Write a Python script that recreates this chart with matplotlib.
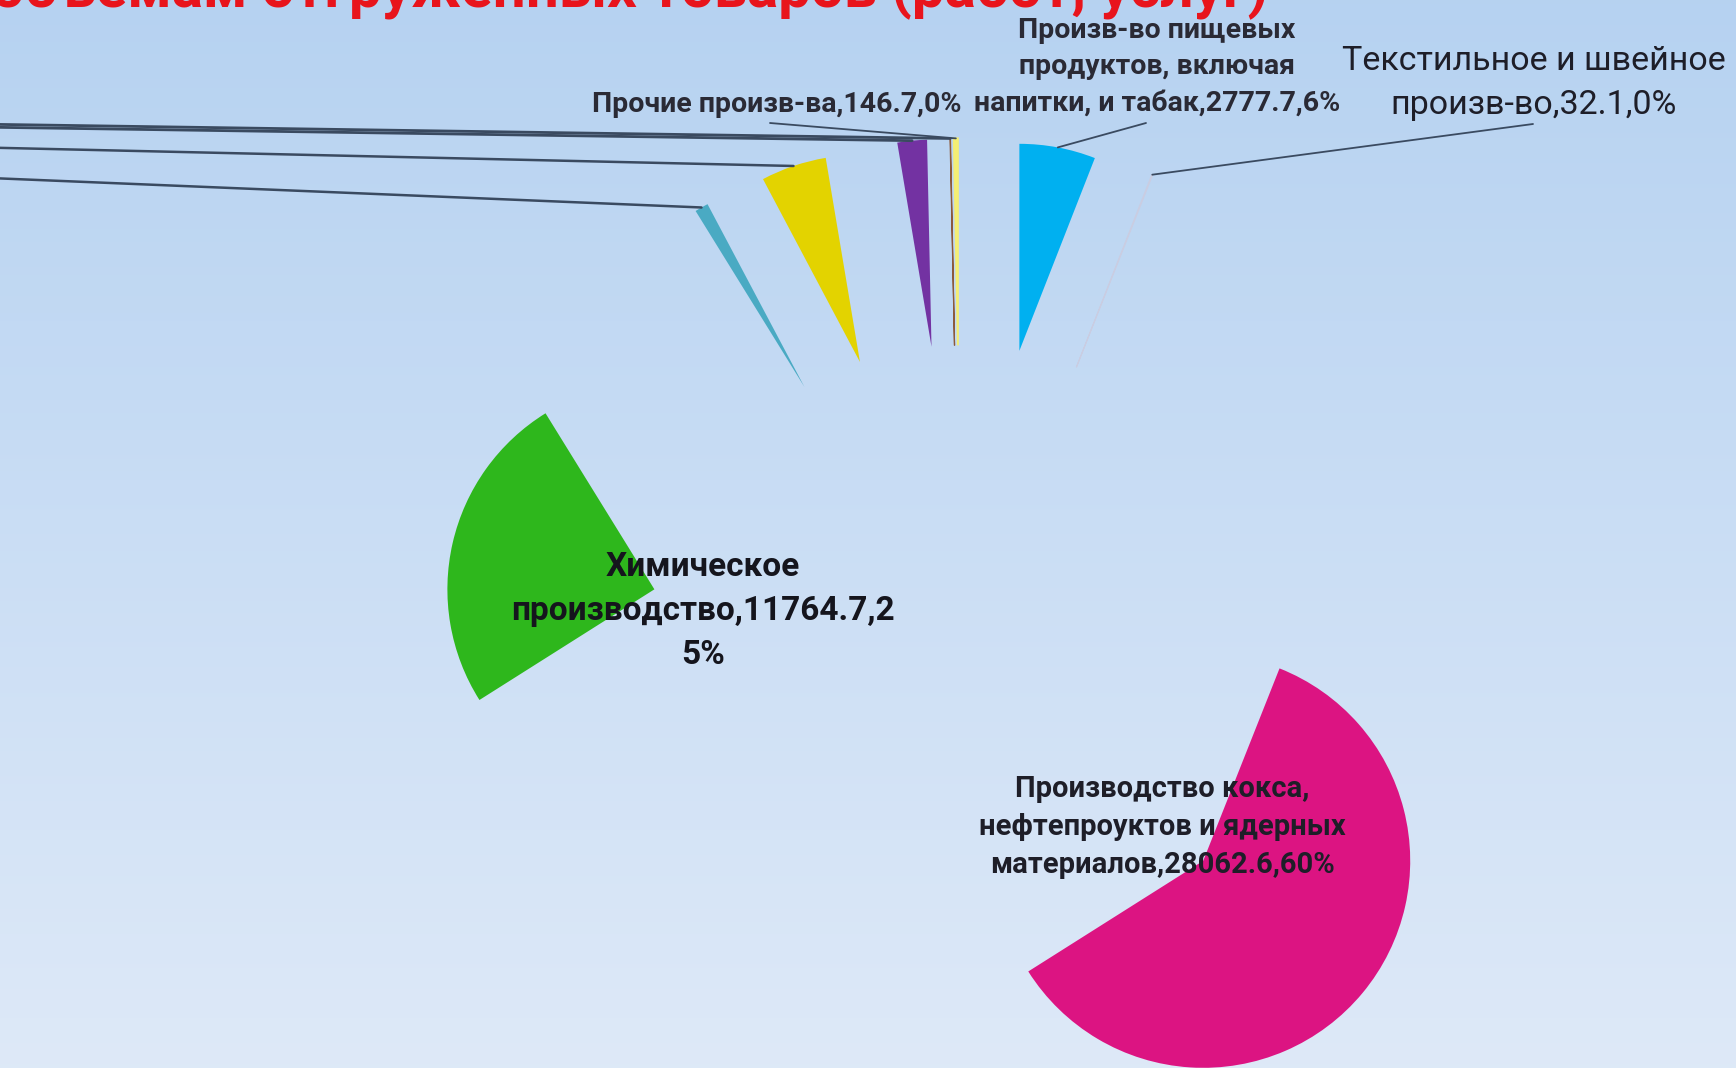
import numpy as np
import matplotlib
matplotlib.use("Agg")
import matplotlib.pyplot as plt

# ---------------- data ----------------
categories = [
    "Произв-во пищевых продуктов, включая напитки, и табак",
    "Текстильное и швейное произв-во",
    "Производство кокса, нефтепроуктов и ядерных материалов",
    "Химическое производство",
    "Металлургическое производство",
    "Производство прочих неметаллических минеральных продуктов",
    "Производство машин и оборудования",
    "Обработка древесины",
    "Прочие произв-ва",
]
values = [2777.7, 32.1, 28062.6, 11764.7, 494.0, 2390.0, 1078.0, 13.0, 146.7]
percent_labels = ["6%", "0%", "60%", "25%", "1%", "5%", "2%", "0%", "0%"]
slice_colors = ["#00b0f0", "#d4d8ea", "#dc1482", "#2eb71c", "#4aaac3",
                "#e3d300", "#7332a2", "#8c5a3c", "#f4ee74"]

title_text = "Структура промышленного производства по объемам отгруженных товаров (работ, услуг)"

FONT = ["Roboto", "DejaVu Sans"]
plt.rcParams["font.family"] = FONT

W, H = 1736, 1068
S = 207.0          # pixels per pie radius
CX, CY = 961.0, 660.0  # pie centre in pixels (from top-left)


def P(px, py):
    """pixel position (top-left origin) -> data coordinates"""
    return ((px - CX) / S, (CY - py) / S)


fig = plt.figure(figsize=(W / 100, H / 100), dpi=100)

# background gradient
bg = fig.add_axes([0, 0, 1, 1])
bg.axis("off")
top = np.array([0.714, 0.824, 0.945])
bot = np.array([0.870, 0.914, 0.972])
g = np.linspace(0, 1, 256)[:, None, None]
img = top + (bot - top) * g
bg.imshow(np.repeat(img, 2, axis=1), aspect="auto", extent=[0, 1, 0, 1], origin="upper")

ax = fig.add_axes([0, 0, 1, 1])
ax.set_facecolor("none")

wedges, _ = ax.pie(values, colors=slice_colors, startangle=90, counterclock=False,
                   explode=[1.52] * len(values), radius=1.0,
                   wedgeprops=dict(linewidth=0))
# hair-thin slices: give them an outline so they stay visible
wedges[1].set_edgecolor("#c9cde2"); wedges[1].set_linewidth(0.8)
wedges[7].set_edgecolor("#8c5a3c"); wedges[7].set_linewidth(0.9)
wedges[8].set_edgecolor("#f4ee74"); wedges[8].set_linewidth(1.4)

ax.set_xlim(-CX / S, (W - CX) / S)
ax.set_ylim(-(H - CY) / S, CY / S)
ax.set_aspect("auto")
ax.axis("off")


def arc_mid(w):
    th = np.deg2rad((w.theta1 + w.theta2) / 2)
    cx, cy = w.center
    return (cx + w.r * np.cos(th), cy + w.r * np.sin(th))


LINE = "#3a4a60"


def leader(i, end, lw=1.6, color=LINE):
    ax.annotate("", xy=arc_mid(wedges[i]), xytext=end,
                arrowprops=dict(arrowstyle="-", color=color, lw=lw,
                                shrinkA=0, shrinkB=0))


def fmt(v):
    return f"{v:g}"


TXT = "#1e1e28"

# food
leader(0, P(1146, 123), lw=1.3)
ax.text(*P(1157, 67), "Произв-во пищевых\nпродуктов, включая\nнапитки, и табак," + fmt(values[0]) + "," + percent_labels[0],
        ha="center", va="center", fontsize=20.5, fontweight="bold", color="#2a2a35", linespacing=1.45)
# textile
leader(1, P(1533, 124), lw=1.3)
ax.text(*P(1534, 83), "Текстильное и швейное\nпроизв-во," + fmt(values[1]) + "," + percent_labels[1],
        ha="center", va="center", fontsize=24.5, color=TXT, linespacing=1.45)
# other
leader(8, P(770, 123), lw=1.3)
ax.text(*P(777, 104), categories[8] + "," + fmt(values[8]) + "," + percent_labels[8],
        ha="center", va="center", fontsize=20.5, fontweight="bold", color="#2a2a35")
# chemistry (inside)
ax.text(*P(703, 611), "Химическое\nпроизводство," + fmt(values[3]) + ",2\n" + percent_labels[3][1:],
        ha="center", va="center", fontsize=24, fontweight="bold", color="#15151d", linespacing=1.5)
# coke (inside)
ax.text(*P(1162, 827), "Производство кокса,\nнефтепроуктов и ядерных\nматериалов," + fmt(values[2]) + "," + percent_labels[2],
        ha="center", va="center", fontsize=21, fontweight="bold", color="#1e1e28", linespacing=1.45)

# leaders of labels that sit beyond the left edge
leader(6, P(-300, 123), lw=2.0)
leader(7, P(-300, 120), lw=2.0)
leader(5, P(-300, 141), lw=1.8)
leader(4, P(-300, 166), lw=1.8)

# title (mostly above the visible area, as in the reference crop)
fig.text(1268 / W, 1 - 7 / H, title_text, ha="right", va="baseline",
         color="#e8141c", fontsize=42, fontweight="bold", family=FONT)

fig.savefig("out.png", dpi=100)
